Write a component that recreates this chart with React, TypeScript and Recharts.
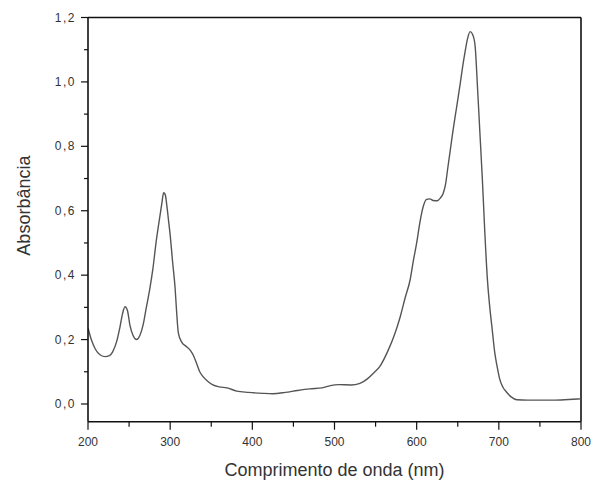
import { LineChart, Line, XAxis, YAxis, ReferenceLine, Label } from 'recharts'

// wavelength (nm) and absorbance
const WAVELENGTH = [
  200, 204, 209, 215, 221, 226, 230, 235, 239, 242, 245, 248, 251, 255, 259, 263, 267, 271, 275, 279,
  283, 287, 290, 292, 294, 296, 298, 300, 303, 306, 308, 310, 314, 320, 325, 328, 332, 336, 340, 346,
  352, 360, 369, 381, 395, 413, 425, 440, 455, 470, 485, 495, 505, 520, 531, 540, 548, 555, 565, 573,
  580, 586, 592, 596, 600, 604, 608, 612, 616, 620, 625, 629, 632, 635, 638, 641, 644, 647, 650, 653,
  656, 659, 662, 665, 668, 671, 674, 677, 680, 683, 686, 689, 692, 695, 698, 701, 705, 709, 715, 722,
  735, 750, 766, 785, 800,
]
const ABSORBANCE = [
  0.236, 0.2, 0.17, 0.152, 0.147, 0.15, 0.162, 0.195, 0.24, 0.28, 0.302, 0.29, 0.245, 0.212, 0.2, 0.212, 0.245, 0.3, 0.354, 0.42,
  0.505, 0.575, 0.625, 0.656, 0.65, 0.615, 0.57, 0.525, 0.44, 0.36, 0.28, 0.22, 0.192, 0.178, 0.165, 0.152, 0.127, 0.1, 0.085, 0.07,
  0.059, 0.053, 0.05, 0.04, 0.036, 0.033, 0.032, 0.036, 0.042, 0.047, 0.05, 0.057, 0.06, 0.059, 0.064, 0.078, 0.097, 0.116, 0.165, 0.215,
  0.271, 0.33, 0.385, 0.445, 0.5, 0.565, 0.613, 0.635, 0.637, 0.632, 0.631, 0.64, 0.652, 0.68, 0.735, 0.79, 0.845, 0.895, 0.944, 0.995,
  1.048, 1.095, 1.135, 1.156, 1.148, 1.115, 0.985, 0.84, 0.695, 0.53, 0.39, 0.3, 0.23, 0.16, 0.115, 0.078, 0.052, 0.038, 0.022, 0.013,
  0.012, 0.012, 0.012, 0.014, 0.016,
]

const X_TICKS = [200, 250, 300, 350, 400, 450, 500, 550, 600, 650, 700, 750, 800]
const Y_TICKS = [0, 0.1, 0.2, 0.3, 0.4, 0.5, 0.6, 0.7, 0.8, 0.9, 1.0, 1.1, 1.2]

const data = WAVELENGTH.map((nm, i) => ({ nm, abs: ABSORBANCE[i] }))

const FONT = 'Arial, "Liberation Sans", sans-serif'
const TEXT = '#333'
const AXIS = '#111'

function XTick(props: any) {
  const { x, y, payload } = props
  const major = payload.value % 100 === 0
  return (
    <g>
      <line x1={x} x2={x} y1={y} y2={y + (major ? 8 : 5)} stroke={AXIS} strokeWidth={1.2} />
      {major && (
        <text x={x} y={y + 24} textAnchor="middle" fontSize={12} fill={TEXT} fontFamily={FONT}>
          {payload.value}
        </text>
      )}
    </g>
  )
}

function YTick(props: any) {
  const { x, y, payload } = props
  const major = Math.round(payload.value * 10) % 2 === 0
  return (
    <g>
      <line x1={x} x2={x - (major ? 7 : 4)} y1={y} y2={y} stroke={AXIS} strokeWidth={1.2} />
      {major && (
        <text x={x - 12} y={y + 4} textAnchor="end" fontSize={12} letterSpacing={1.5} fill={TEXT} fontFamily={FONT}>
          {payload.value.toFixed(1).replace('.', ',')}
        </text>
      )}
    </g>
  )
}

export default function App() {
  return (
    <div style={{ position: 'absolute', left: 0, top: 0, width: 595, height: 481, background: '#fff' }}>
      <LineChart width={595} height={481} data={data} margin={{ top: 17.5, right: 14, bottom: 29.3, left: 28 }}>
        <XAxis
          dataKey="nm"
          type="number"
          domain={[200, 800]}
          ticks={X_TICKS}
          interval={0}
          allowDataOverflow
          height={30}
          tickSize={0}
          tickMargin={0}
          tickLine={false}
          tick={<XTick />}
          axisLine={{ stroke: AXIS, strokeWidth: 1.6 }}
        >
          <Label
            content={({ viewBox }: any) => (
              <text
                x={viewBox.x + viewBox.width / 2}
                y={viewBox.y + 54}
                textAnchor="middle"
                fontSize={18}
                fill={TEXT}
                fontFamily={FONT}
              >
                Comprimento de onda (nm)
              </text>
            )}
          />
        </XAxis>
        <YAxis
          type="number"
          domain={[-0.055, 1.2]}
          ticks={Y_TICKS}
          interval={0}
          allowDataOverflow
          width={60}
          tickSize={0}
          tickMargin={0}
          tickLine={false}
          tick={<YTick />}
          axisLine={{ stroke: AXIS, strokeWidth: 1.6 }}
        >
          <Label
            content={({ viewBox }: any) => {
              const cx = viewBox.x - 4
              const cy = viewBox.y + viewBox.height / 2 - 14
              return (
                <text
                  x={cx}
                  y={cy}
                  transform={`rotate(-90 ${cx} ${cy})`}
                  textAnchor="middle"
                  dominantBaseline="central"
                  fontSize={18}
                  fill={TEXT}
                  fontFamily={FONT}
                >
                  Absorbância
                </text>
              )
            }}
          />
        </YAxis>
        <ReferenceLine y={1.2} stroke={AXIS} strokeWidth={1.6} />
        <ReferenceLine x={800} stroke={AXIS} strokeWidth={1.6} />
        <Line type="monotone" dataKey="abs" stroke="#555" strokeWidth={1.4} dot={false} isAnimationActive={false} />
      </LineChart>
    </div>
  )
}
